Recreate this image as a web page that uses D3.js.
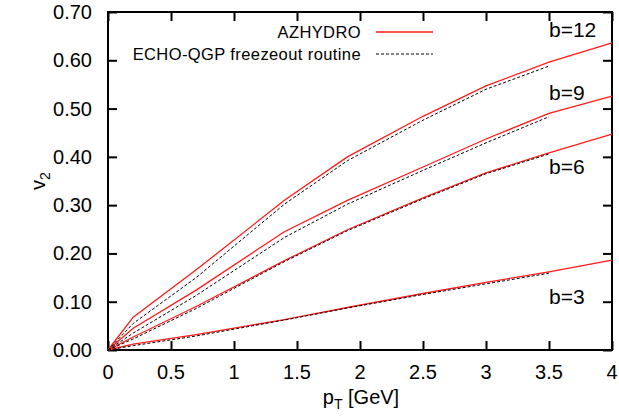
<!DOCTYPE html>
<html>
<head>
<meta charset="utf-8">
<script src="https://cdn.jsdelivr.net/npm/d3@7"></script>
<style>
    html, body { margin: 0; padding: 0; background: #fff; }
    svg { display: block; font-family: "Liberation Sans", Arial, Helvetica, sans-serif; }
    .frame { fill: none; stroke: #000; stroke-width: 2; }
    .tick line { stroke: #000; stroke-width: 2; }
    .azhydro { fill: none; stroke: #ff1a1a; stroke-width: 1.3; }
    .echo { fill: none; stroke: #000; stroke-width: 1; stroke-dasharray: 3,2; }
</style>
</head>
<body>
<svg id="chart" width="619" height="417"></svg>
<script>
// pT grid of both calculations
const PT_AZ = [0, 0.2, 0.7, 1.4, 1.9, 2.5, 3.0, 3.5, 4.0];
const PT_ECHO = [0, 0.2, 0.7, 1.4, 1.9, 2.5, 3.0, 3.5];

// impact parameters
const IMPACT = ['b=12', 'b=9', 'b=6', 'b=3'];

// v2 values, AZHYDRO (solid red)
const AZ_B12 = [0, 0.068, 0.166, 0.310, 0.400, 0.484, 0.547, 0.596, 0.636];
const AZ_B9  = [0, 0.045, 0.124, 0.245, 0.310, 0.379, 0.437, 0.490, 0.526];
const AZ_B6  = [0, 0.027, 0.090, 0.185, 0.249, 0.315, 0.367, 0.408, 0.447];
const AZ_B3  = [0, 0.012, 0.032, 0.063, 0.088, 0.117, 0.140, 0.162, 0.186];

// ECHO-QGP freezeout routine (dashed black)
const ECHO_B12 = [0, 0.055, 0.150, 0.302, 0.392, 0.476, 0.540, 0.588];
const ECHO_B9  = [0, 0.035, 0.113, 0.233, 0.302, 0.372, 0.429, 0.483];
const ECHO_B6  = [0, 0.023, 0.086, 0.183, 0.247, 0.313, 0.365, 0.406];
const ECHO_B3  = [0, 0.009, 0.029, 0.062, 0.087, 0.115, 0.137, 0.159];

// where the b= labels sit, in data units
const LABEL_X = [3.5, 3.5, 3.5, 3.5];
const LABEL_Y = [0.648, 0.518, 0.364, 0.095];

const X_TICKS = [0, 0.5, 1, 1.5, 2, 2.5, 3, 3.5, 4];
const Y_TICKS = [0, 0.1, 0.2, 0.3, 0.4, 0.5, 0.6, 0.7];

const LEFT = 108, RIGHT = 612, TOP = 12, BOTTOM = 350;

renderChart();

function renderChart() {
    const svg = d3.select('#chart');

    const xScale = d3.scaleLinear().domain([0, 4]).range([LEFT, RIGHT]);
    const yScale = d3.scaleLinear().domain([0, 0.7]).range([BOTTOM, TOP]);

    _renderAxes(svg, xScale, yScale);

    const azSeries = [AZ_B12, AZ_B9, AZ_B6, AZ_B3];
    const echoSeries = [ECHO_B12, ECHO_B9, ECHO_B6, ECHO_B3];

    for (const values of azSeries) _renderLine(svg, xScale, yScale, PT_AZ, values, 'azhydro');
    for (const values of echoSeries) _renderLine(svg, xScale, yScale, PT_ECHO, values, 'echo');

    _renderLabels(svg, xScale, yScale);
    _renderLegend(svg);
}

function _renderLine(svg, xScale, yScale, xs, ys, cls) {
    const line = d3.line()
        .x((d, i) => xScale(xs[i]))
        .y(d => yScale(d));

    svg.append('path')
        .attr('class', cls)
        .attr('d', line(ys));
}

function _renderAxes(svg, xScale, yScale) {
    const w = RIGHT - LEFT, h = BOTTOM - TOP;

    // inward ticks on all four sides, gnuplot style
    svg.append('g')
        .attr('transform', `translate(0,${BOTTOM})`)
        .call(d3.axisTop(xScale).tickValues(X_TICKS).tickSize(9).tickFormat(''))
        .call(g => g.select('.domain').remove());
    svg.append('g')
        .attr('transform', `translate(0,${TOP})`)
        .call(d3.axisBottom(xScale).tickValues(X_TICKS).tickSize(9).tickFormat(''))
        .call(g => g.select('.domain').remove());
    svg.append('g')
        .attr('transform', `translate(${LEFT},0)`)
        .call(d3.axisRight(yScale).tickValues(Y_TICKS).tickSize(9).tickFormat(''))
        .call(g => g.select('.domain').remove());
    svg.append('g')
        .attr('transform', `translate(${RIGHT},0)`)
        .call(d3.axisLeft(yScale).tickValues(Y_TICKS).tickSize(9).tickFormat(''))
        .call(g => g.select('.domain').remove());

    svg.append('rect')
        .attr('class', 'frame')
        .attr('x', LEFT).attr('y', TOP)
        .attr('width', w).attr('height', h);

    // tick labels
    svg.append('g')
        .selectAll('text')
        .data(X_TICKS)
        .enter()
        .append('text')
        .attr('x', d => xScale(d))
        .attr('y', 379)
        .attr('text-anchor', 'middle')
        .attr('font-size', 20)
        .text(d => d3.format('')(d));

    svg.append('g')
        .selectAll('text')
        .data(Y_TICKS)
        .enter()
        .append('text')
        .attr('x', 92)
        .attr('y', d => yScale(d) + 7)
        .attr('text-anchor', 'end')
        .attr('font-size', 20)
        .text(d => d3.format('.2f')(d));

    // axis titles
    const xt = svg.append('text')
        .attr('x', 361)
        .attr('y', 404)
        .attr('text-anchor', 'middle')
        .attr('font-size', 20);
    xt.append('tspan').text('p');
    xt.append('tspan').attr('font-size', 14).attr('dy', 5).text('T');
    xt.append('tspan').attr('dy', -5).text(' [GeV]');

    const yt = svg.append('text')
        .attr('transform', `translate(45,${(TOP + BOTTOM) / 2}) rotate(-90)`)
        .attr('text-anchor', 'middle')
        .attr('font-size', 20);
    yt.append('tspan').text('v');
    yt.append('tspan').attr('font-size', 14).attr('dy', 5).text('2');
}

function _renderLabels(svg, xScale, yScale) {
    svg.append('g')
        .selectAll('text')
        .data(IMPACT)
        .enter()
        .append('text')
        .attr('x', (d, i) => xScale(LABEL_X[i]))
        .attr('y', (d, i) => yScale(LABEL_Y[i]))
        .attr('font-size', 21)
        .text(d => d);
}

function _renderLegend(svg) {
    const entries = [
        {name: 'AZHYDRO', cls: 'azhydro', y: 32},
        {name: 'ECHO-QGP freezeout routine', cls: 'echo', y: 54}
    ];

    const g = svg.append('g');
    g.selectAll('text')
        .data(entries)
        .enter()
        .append('text')
        .attr('x', 361)
        .attr('y', d => d.y + 6)
        .attr('text-anchor', 'end')
        .attr('font-size', 16.5)
        .attr('letter-spacing', 0.4)
        .text(d => d.name);

    g.selectAll('line')
        .data(entries)
        .enter()
        .append('line')
        .attr('class', d => d.cls)
        .attr('x1', 376).attr('x2', 433)
        .attr('y1', d => d.y).attr('y2', d => d.y);
}
</script>
</body>
</html>
